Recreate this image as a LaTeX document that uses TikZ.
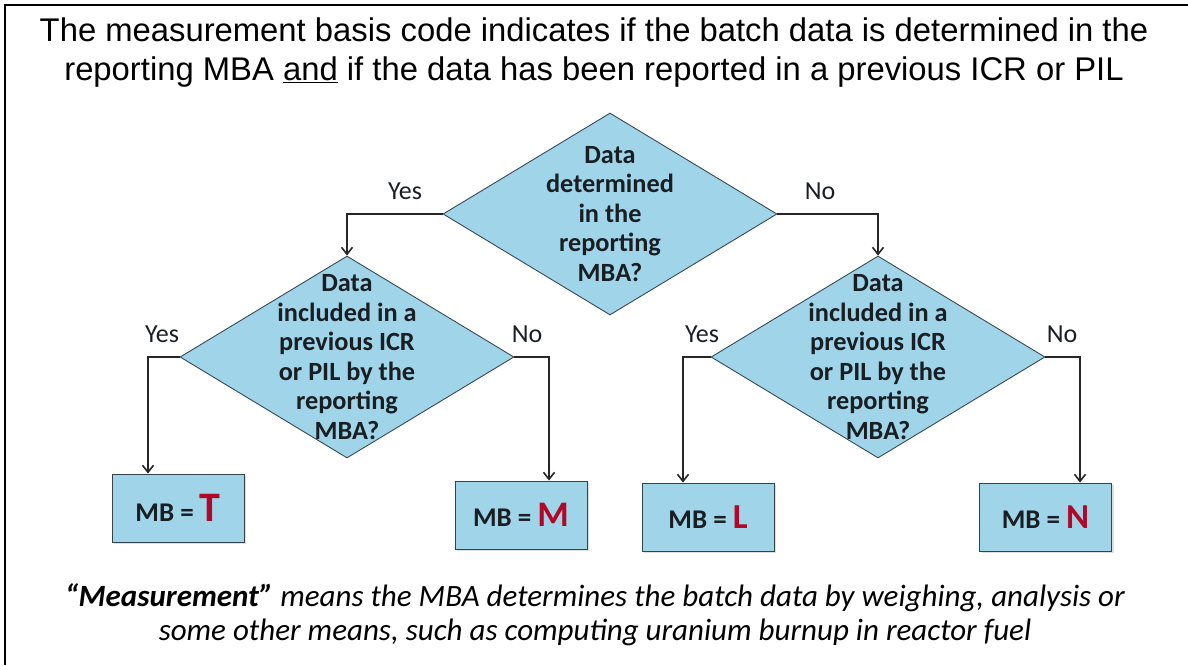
\documentclass[tikz,border=0pt]{standalone}
\usepackage{fontspec}
\setmainfont{Liberation Sans}
\newfontfamily\calibri{Carlito}
\usetikzlibrary{shapes.geometric,arrows.meta,shadows}

\definecolor{boxblue}{RGB}{160,212,232}
\definecolor{edgegray}{RGB}{55,75,85}
\definecolor{codered}{RGB}{178,8,40}
\definecolor{inkdark}{RGB}{25,30,35}

\begin{document}
\begin{tikzpicture}[x=1pt,y=-1pt,
  decision/.style={diamond, draw=edgegray, line width=0.9pt, fill=boxblue,
    inner sep=0pt, minimum width=334pt, minimum height=202pt},
  dtext/.style={text=inkdark, align=center,
    font=\calibri\bfseries\fontsize{26.3}{29.5}\selectfont},
  outcome/.style={rectangle, draw=edgegray!90!black, line width=0.9pt, fill=boxblue,
    minimum width=132pt, minimum height=68pt, inner sep=0pt,
    drop shadow={shadow xshift=2pt, shadow yshift=-2pt, opacity=0.25},
    text=inkdark, font=\calibri\bfseries\fontsize{27}{30}\selectfont},
  conn/.style={draw=black!85, line width=1.8pt,
    -{Straight Barb[length=7pt,width=11pt,line width=1.6pt]}},
  answer/.style={text=inkdark, font=\calibri\fontsize{26}{30}\selectfont}
]
\useasboundingbox (0,0) rectangle (1188,665);

% frame lines along the top and left edges
\draw[line width=2pt] (1188,5) -- (5,5) -- (5,665);

% heading
\node[anchor=base, font=\fontsize{32.8}{38}\selectfont] (head1) at (594,41)
  {The measurement basis code indicates if the batch data is determined in the};
\node[anchor=base, font=\fontsize{32.8}{38}\selectfont] (head2) at (594,80)
  {reporting MBA \underline{and} if the data has been reported in a previous ICR or PIL};

% decision diamonds
\node[decision, label={[dtext]center:Data\\determined\\in the\\reporting\\MBA?}] (root) at (610,214) {};
\node[decision, label={[dtext]center:Data\\included in a\\previous ICR\\or PIL by the\\reporting\\MBA?}] (leftq) at (347,357) {};
\node[decision, label={[dtext]center:Data\\included in a\\previous ICR\\or PIL by the\\reporting\\MBA?}] (rightq) at (878,357) {};

% measurement basis outcomes
\node[outcome] (boxT) at (178,508) {MB = {\color{codered}\fontsize{42}{44}\selectfont T}};
\node[outcome] (boxM) at (521,515) {MB = {\color{codered}\fontsize{36}{40}\selectfont M}};
\node[outcome] (boxL) at (708,517) {MB = {\color{codered}\fontsize{35}{38}\selectfont L}};
\node[outcome] (boxN) at (1045.5,517) {MB = {\color{codered}\fontsize{35}{38}\selectfont N}};

% connectors
\draw[conn] (root.west) -| (leftq.north);
\draw[conn] (root.east) -| (rightq.north);
\draw[conn] (leftq.west) -| ([xshift=-30pt]boxT.north);
\draw[conn] (leftq.east) -| ([xshift=28pt]boxM.north);
\draw[conn] (rightq.west) -| ([xshift=-25pt]boxL.north);
\draw[conn] (rightq.east) -| ([xshift=34.5pt]boxN.north);

% branch answers
\node[answer] (a1) at (405,191) {Yes};
\node[answer] (a2) at (820,191) {No};
\node[answer] (a3) at (162,334) {Yes};
\node[answer] (a4) at (527,334) {No};
\node[answer] (a5) at (702,334) {Yes};
\node[answer] (a6) at (1062,334) {No};

% footnote
\node[anchor=base, font=\calibri\itshape\fontsize{31}{34}\selectfont] (note1) at (595,606)
  {\textbf{“Measurement”} means the MBA determines the batch data by weighing, analysis or};
\node[anchor=base, font=\calibri\itshape\fontsize{31}{34}\selectfont] (note2) at (595,640)
  {some other means, such as computing uranium burnup in reactor fuel};
\end{tikzpicture}
\end{document}
